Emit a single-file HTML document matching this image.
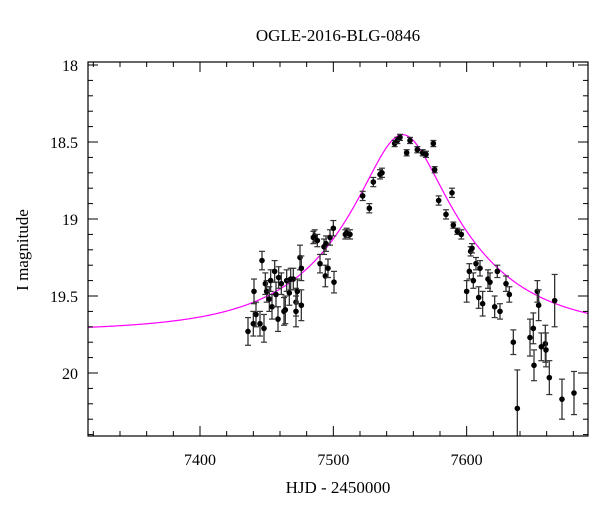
<!DOCTYPE html>
<html><head><meta charset="utf-8"><style>
html,body{margin:0;padding:0;background:#fff;}
svg{display:block;font-family:"Liberation Serif",serif;}
</style></head><body>
<svg id="chart" width="600" height="512" xmlns="http://www.w3.org/2000/svg">
<text x="338" y="41" font-size="17" text-anchor="middle">OGLE-2016-BLG-0846</text>
<text x="338" y="493" font-size="17" text-anchor="middle">HJD - 2450000</text>
<text x="28" y="250" font-size="17" text-anchor="middle" transform="rotate(-90 28 250)">I magnitude</text>
<g id="plot"></g>
</svg>
<script>
const hjd = [7436,7440.5,7440,7442,7445,7446.5,7448,7449,7450,7452,7453,7454,7456,7457,7458.5,7459,7461,7463,7464,7465,7467,7468,7470,7472,7472,7473,7475,7476,7476,
7485,7486,7488,7490,7493,7494.5,7494,7496,7497.5,7500,7500.5,7509,7510,7512.5,
7522,7527,7530,7535,7536.5,7546,7548,7550,7555,7557.5,7563,7567,7569.5,7575,7576,7579,7584.5,7589,7590,
7593,7596,7600,7602,7603,7604,7605,7607,7609,7610,7612,7616,7617.5,7621,7623,7625,7629.5,7632,7635,7638,7647.5,7650,7650.5,7653,7654,7656,7659,7659.5,7662,7666,7671.5,7680.5];
const mag = [19.73,19.47,19.68,19.62,19.68,19.27,19.71,19.42,19.47,19.52,19.40,19.57,19.34,19.49,19.65,19.38,19.42,19.60,19.59,19.40,19.48,19.39,19.39,19.54,19.60,19.47,19.25,19.32,19.56,
19.12,19.11,19.14,19.29,19.18,19.16,19.37,19.32,19.12,19.06,19.41,19.10,19.09,19.10,
18.85,18.93,18.76,18.71,18.70,18.51,18.49,18.47,18.57,18.49,18.55,18.57,18.58,18.51,18.68,18.88,18.97,18.83,19.04,
19.08,19.10,19.47,19.34,19.21,19.19,19.40,19.29,19.51,19.32,19.55,19.39,19.41,19.57,19.34,19.60,19.42,19.49,19.80,20.23,19.77,19.71,19.95,19.47,19.56,19.83,19.81,19.85,20.03,19.53,20.17,20.13];
const magErr = [0.09,0.08,0.08,0.08,0.08,0.06,0.09,0.07,0.07,0.08,0.07,0.08,0.07,0.08,0.08,0.07,0.07,0.09,0.09,0.07,0.08,0.07,0.07,0.09,0.10,0.08,0.08,0.08,0.10,
0.04,0.04,0.04,0.06,0.05,0.05,0.07,0.06,0.05,0.05,0.07,0.03,0.03,0.03,
0.03,0.03,0.03,0.03,0.03,0.02,0.02,0.02,0.02,0.02,0.02,0.02,0.02,0.02,0.02,0.03,0.03,0.03,0.02,
0.02,0.03,0.07,0.05,0.03,0.03,0.05,0.04,0.07,0.05,0.08,0.06,0.06,0.07,0.04,0.05,0.05,0.05,0.08,0.25,0.12,0.10,0.10,0.07,0.10,0.09,0.12,0.11,0.11,0.17,0.13,0.14];
const xTicks = [7400,7500,7600];
const yTicks = [18,18.5,19,19.5,20];
const model = {t0:7552, u0:0.32, tE:89, base:19.73};

const L=88,R=588,T=62,B=436;
const X = t => 200 + (t-7400)*1.3333;
const Y = m => 65 + (m-18)*154;
const NS="http://www.w3.org/2000/svg";
const g=document.getElementById('plot');
function el(tag,attrs){const e=document.createElementNS(NS,tag);for(const k in attrs)e.setAttribute(k,attrs[k]);g.appendChild(e);return e;}

// model curve
let d="";
for(let px=L;px<=R;px+=1){
  const t=7400+(px-200)/1.3333;
  const tau=(t-model.t0)/model.tE;
  const u=Math.sqrt(model.u0*model.u0+tau*tau);
  const A=(u*u+2)/(u*Math.sqrt(u*u+4));
  const m=model.base-2.5*Math.log10(A);
  d+=(d?"L":"M")+px.toFixed(1)+" "+Y(m).toFixed(2);
}
const curve=el('path',{d:d,fill:'none',stroke:'#ff00ff','stroke-width':1.2});



// data points
for(let i=0;i<hjd.length;i++){
  const x=X(hjd[i]), y=Y(mag[i]), e=magErr[i]*154;
  const y1=Math.max(T,y-e), y2=Math.min(B,y+e);
  const grp=el('g',{});
  
  
  const mk=(tag,a)=>{const c=document.createElementNS(NS,tag);for(const k in a)c.setAttribute(k,a[k]);grp.appendChild(c);};
  mk('line',{x1:x,x2:x,y1:y1,y2:y2,stroke:'#333','stroke-width':1.3});
  if(y-e>=T) mk('line',{x1:x-3,x2:x+3,y1:y1,y2:y1,stroke:'#333','stroke-width':1.2});
  if(y+e<=B) mk('line',{x1:x-3,x2:x+3,y1:y2,y2:y2,stroke:'#333','stroke-width':1.2});
  mk('circle',{cx:x,cy:y,r:2.8,fill:'#000'});
}

// frame
const frame=el('rect',{x:L,y:T,width:R-L,height:B-T,fill:'none',stroke:'#000','stroke-width':1.2});



// x ticks
for(let t=7320;t<=7680;t+=20){
  const x=X(t); const major=(t%100===0); const len=major?10:5;
  el('line',{x1:x,x2:x,y1:B,y2:B-len,stroke:'#000','stroke-width':1});
  el('line',{x1:x,x2:x,y1:T,y2:T+len,stroke:'#000','stroke-width':1});
}
xTicks.forEach(t=>{
  const tx=el('text',{x:X(t),y:465,'font-size':16,'text-anchor':'middle'});
  tx.textContent=t;
  
  
});
// y ticks
for(let k=0;k<=24;k++){
  const m=18+k*0.1; const y=Y(m); if(y<T||y>B) continue;
  const major=(k%5===0); const len=major?10:5;
  el('line',{x1:L,x2:L+len,y1:y,y2:y,stroke:'#000','stroke-width':1});
  el('line',{x1:R,x2:R-len,y1:y,y2:y,stroke:'#000','stroke-width':1});
}
yTicks.forEach(m=>{
  const tx=el('text',{x:78,y:Y(m)+6,'font-size':16,'text-anchor':'end'});
  tx.textContent=String(m);
  
  
});
</script>
</body></html>
